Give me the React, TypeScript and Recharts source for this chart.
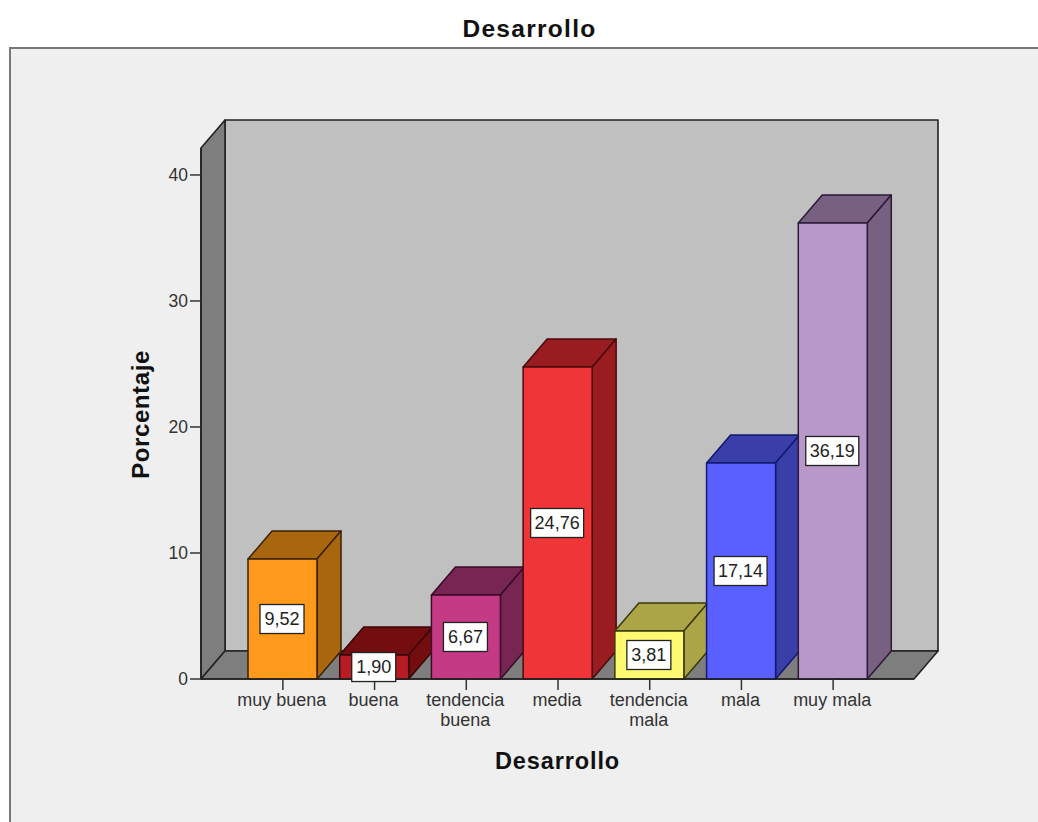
import React from 'react';
import { BarChart, Bar, XAxis, YAxis, ReferenceArea, LabelList, Label } from 'recharts';

const categories = ['muy buena', 'buena', 'tendencia buena', 'media', 'tendencia mala', 'mala', 'muy mala'];
const percentages = [9.52, 1.9, 6.67, 24.76, 3.81, 17.14, 36.19];
const frontColors = ['#FF9A1C', '#B71C24', '#C53A85', '#F03539', '#FFFA72', '#5A60FF', '#B798C8'];
const shadeColors = ['#A8660F', '#730D10', '#772553', '#981C20', '#ABA548', '#3A3EA8', '#786080'];
const edgeColors = ['#3a2200', '#3a0608', '#3a0a28', '#4a0a0c', '#3a3a08', '#101a70', '#2a1a38'];
const yTicks = [0, 10, 20, 30, 40];
const yTop = 42.14;

const data = categories.map((name, i) => ({ name, value: percentages[i] }));

const FONT = '"Liberation Sans", Arial, sans-serif';
const DX = 24;
const DY = -28;
const PAD_L = 36;
const PAD_R = 35;

const Walls = (p: any) => {
  const { y, height } = p;
  const x = p.x - PAD_L;
  const r = p.x + p.width + PAD_R;
  const b = y + height;
  const line = { stroke: '#222', strokeWidth: 1.6, strokeLinejoin: 'round' as const };
  return (
    <g>
      <polygon points={`${x + DX},${y + DY} ${r + DX},${y + DY} ${r + DX},${b + DY} ${x + DX},${b + DY}`} fill="#C0C0C0" {...line} />
      <polygon points={`${x},${y} ${x + DX},${y + DY} ${x + DX},${b + DY} ${x},${b}`} fill="#7E7E7E" {...line} />
      <polygon points={`${x},${b} ${x + DX},${b + DY} ${r + DX},${b + DY} ${r},${b}`} fill="#7E7E7E" {...line} />
    </g>
  );
};

const Bar3D = (p: any) => {
  const { x, y, width, height, index } = p;
  const r = x + width;
  const b = y + height;
  const line = { stroke: edgeColors[index], strokeWidth: 1.5, strokeLinejoin: 'round' as const };
  return (
    <g>
      <polygon points={`${x},${y} ${x + DX},${y + DY} ${r + DX},${y + DY} ${r},${y}`} fill={shadeColors[index]} {...line} />
      <polygon points={`${r},${y} ${r + DX},${y + DY} ${r + DX},${b + DY} ${r},${b}`} fill={shadeColors[index]} {...line} />
      <rect x={x} y={y} width={width} height={height} fill={frontColors[index]} {...line} />
    </g>
  );
};

const ValueBox = (p: any) => {
  const { x, y, width, height, value } = p;
  const text = Number(value).toFixed(2).replace('.', ',');
  const w = text.length > 4 ? 53 : 44;
  const cx = x + width / 2 - 0.5;
  const cy = y + height / 2;
  return (
    <g>
      <rect x={cx - w / 2} y={cy - 14.5} width={w} height={29} fill="#fff" stroke="#222" strokeWidth={1.3} />
      <text x={cx} y={cy + 6} textAnchor="middle" fontFamily={FONT} fontSize={18} fill="#222">{text}</text>
    </g>
  );
};

const XTick = (p: any) => {
  const { x, y, payload } = p;
  const s = String(payload.value);
  const lines = s.length > 9 ? s.split(' ') : [s];
  return (
    <text x={x - 1} textAnchor="middle" fontFamily={FONT} fontSize={18} fill="#333">
      {lines.map((l, i) => (
        <tspan key={l} x={x - 1} y={y + 14 + i * 20}>{l}</tspan>
      ))}
    </text>
  );
};

export default function App() {
  return (
    <div style={{ position: 'absolute', left: 0, top: 0, width: 1038, height: 822, background: '#fff', overflow: 'hidden' }}>
      <div style={{ position: 'absolute', left: 9, top: 47, width: 1029, height: 775, boxSizing: 'border-box', background: '#EFEFEF', borderLeft: '2px solid #777', borderTop: '2px solid #777' }} />
      <BarChart
        width={1038}
        height={822}
        data={data}
        margin={{ top: 148, right: 124, bottom: 0, left: 0 }}
        style={{ position: 'absolute', left: 0, top: 0 }}
        barSize={69}
      >
        <text x={529.5} y={37} textAnchor="middle" fontFamily={FONT} fontWeight="bold" fontSize={24.5} letterSpacing={1.3} fill="#111">Desarrollo</text>
        <ReferenceArea y1={0} y2={yTop} shape={Walls} />
        <XAxis
          dataKey="name"
          height={143}
          interval={0}
          padding={{ left: PAD_L, right: PAD_R }}
          tick={XTick}
          tickLine={{ stroke: '#333', strokeWidth: 1.5 }}
          tickSize={11}
          axisLine={{ stroke: '#222', strokeWidth: 1.6 }}
        >
          <Label value="Desarrollo" position="insideTop" offset={73} fontFamily={FONT} fontWeight="bold" fontSize={23.5} letterSpacing={0.9} fill="#111" />
        </XAxis>
        <YAxis
          width={201}
          domain={[0, yTop]}
          ticks={yTicks}
          interval={0}
          tickSize={11}
          tickMargin={2}
          tickLine={{ stroke: '#333', strokeWidth: 1.5 }}
          axisLine={{ stroke: '#222', strokeWidth: 1.6 }}
          tick={{ fontFamily: FONT, fontSize: 17.5, fill: '#333' }}
        >
          <Label value="Porcentaje" angle={-90} position="center" dx={40} dy={1} fontFamily={FONT} fontWeight="bold" fontSize={24} letterSpacing={0.6} fill="#111" />
        </YAxis>
        <Bar dataKey="value" isAnimationActive={false} shape={Bar3D}>
          <LabelList dataKey="value" content={ValueBox} />
        </Bar>
      </BarChart>
    </div>
  );
}
